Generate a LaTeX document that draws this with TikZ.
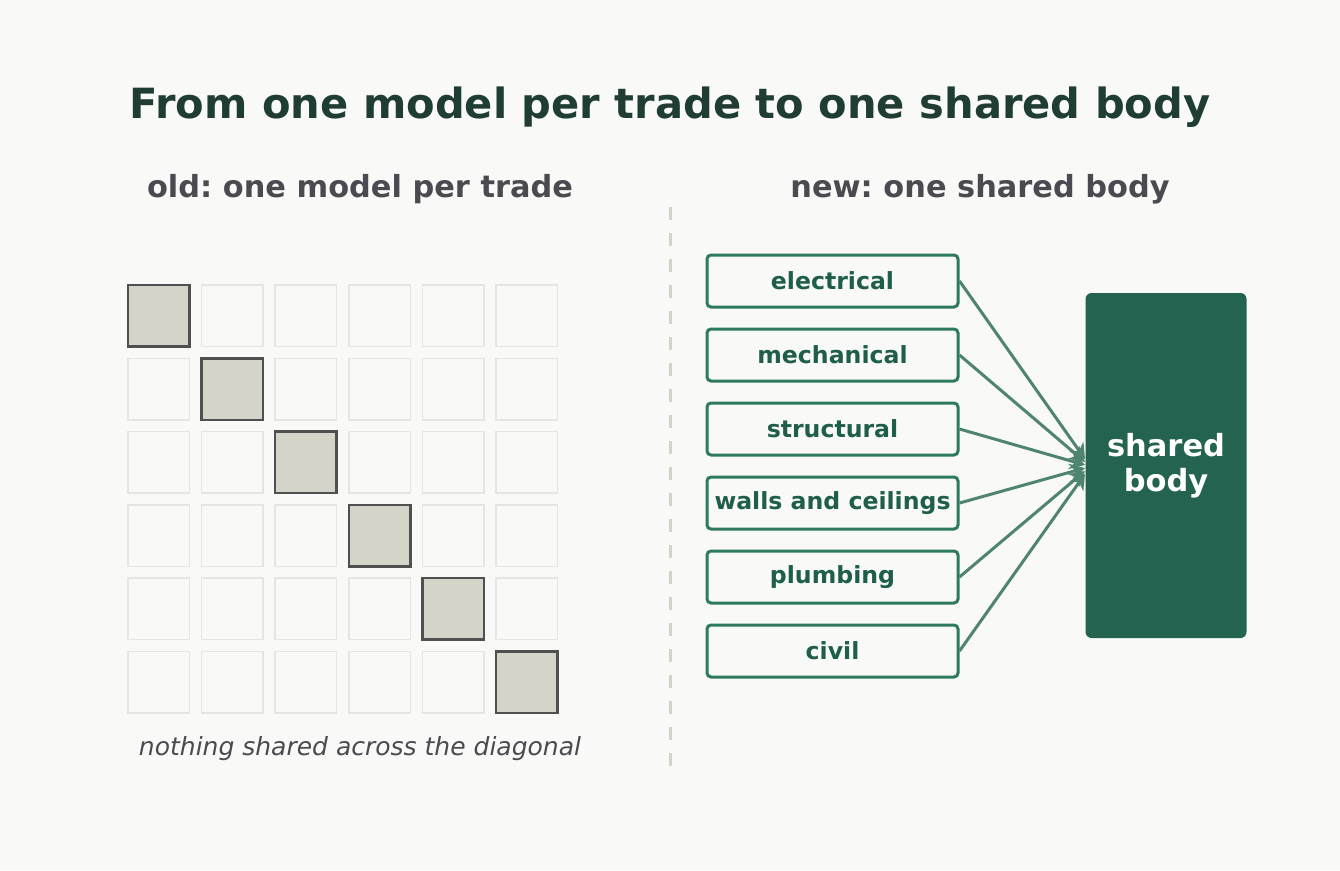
\documentclass[tikz,border=0pt]{standalone}
\usepackage{fontspec}
\setmainfont{DejaVu Sans}
\usetikzlibrary{arrows.meta}
\definecolor{bg}{HTML}{F9F9F7}
\definecolor{titlec}{HTML}{1F3D33}
\definecolor{subc}{HTML}{4A4A50}
\definecolor{cellfill}{HTML}{D4D4C8}
\definecolor{celldraw}{HTML}{505050}
\definecolor{cellfaint}{HTML}{E6E6E0}
\definecolor{boxdraw}{HTML}{2E7A5E}
\definecolor{boxtext}{HTML}{1F5E4B}
\definecolor{bodyfill}{HTML}{236350}
\definecolor{linkc}{HTML}{4F8570}
\definecolor{divc}{HTML}{D3D3C8}
\frenchspacing
\begin{document}
\begin{tikzpicture}[x=1pt,y=-1pt,
  titlestyle/.style={font=\fontsize{41.6}{46}\selectfont\bfseries, text=titlec, inner sep=0pt},
  substyle/.style={font=\fontsize{30.4}{34}\selectfont\bfseries, text=subc, inner sep=0pt},
  capstyle/.style={font=\fontsize{25}{28}\selectfont\itshape, text=subc, inner sep=0pt},
  cellbox/.style={draw=cellfaint, line width=1.5pt, fill=bg, minimum size=61.5pt, inner sep=0pt, anchor=center},
  diagcell/.style={draw=celldraw, fill=cellfill, line width=2.5pt},
  tradebox/.style={draw=boxdraw, line width=3pt, rounded corners=4pt, fill=bg, minimum width=251pt, minimum height=52pt, inner sep=0pt, font=\fontsize{23.6}{27}\selectfont\bfseries, text=boxtext},
  bodybox/.style={fill=bodyfill, rounded corners=6pt, minimum width=161pt, minimum height=345pt, inner sep=0pt, font=\fontsize{30.5}{35}\selectfont\bfseries, text=white, align=center},
  link/.style={draw=linkc, line width=3pt, -{Stealth[length=15pt,width=17pt]}},
  divider/.style={draw=divc, line width=3pt, dash pattern=on 13pt off 13pt}
]
\useasboundingbox[fill=bg] (0,0) rectangle (1340,870);
\node[titlestyle] (title) at (670,107) {From one model per trade to one shared body};
\node[substyle] (oldt) at (360,189) {old: one model per trade};
\node[substyle] (newt) at (980,189) {new: one shared body};
\coordinate (dtop) at (670,207);
\coordinate (dbot) at (670,768);
\draw[divider] (dtop) -- (dbot);
\foreach \i in {0,...,5}{
  \foreach \j in {0,...,5}{
    \ifnum\i=\j
      \node[cellbox, diagcell] (c-\i-\j) at ({158.75+\j*73.6},{315.75+\i*73.3}) {};
    \else
      \node[cellbox] (c-\i-\j) at ({158.75+\j*73.6},{315.75+\i*73.3}) {};
    \fi
  }
}
\node[capstyle] (cap) at (360,749) {nothing shared across the diagonal};
\node[bodybox] (body) at (1166,465.5) {shared\\body};
\foreach \n/\t [count=\k from 0] in {el/electrical, me/mechanical, st/structural, wa/walls and ceilings, pl/plumbing, ci/civil}{
  \node[tradebox] (\n) at (832.5,{281+\k*74}) {\t};
}
\coordinate (tip1) at (1085,459);
\coordinate (tip2) at (1085,462);
\coordinate (tip3) at (1085,465);
\coordinate (tip4) at (1085,468);
\coordinate (tip5) at (1085,471);
\coordinate (tip6) at (1085,474);
\draw[link] (el.east) -- (tip1);
\draw[link] (me.east) -- (tip2);
\draw[link] (st.east) -- (tip3);
\draw[link] (wa.east) -- (tip4);
\draw[link] (pl.east) -- (tip5);
\draw[link] (ci.east) -- (tip6);
\end{tikzpicture}
\end{document}
